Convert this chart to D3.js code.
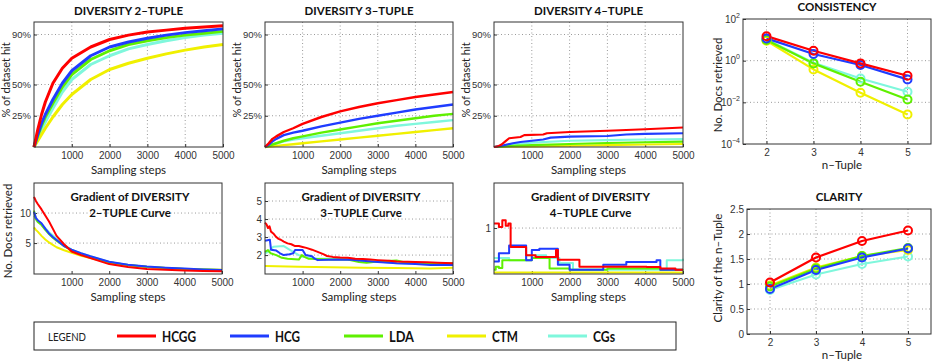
<!DOCTYPE html>
<html>
<head>
<meta charset="utf-8">
<script src="https://cdn.jsdelivr.net/npm/d3@7"></script>
<style>
  body { margin: 0; background: #fff; }
  svg { display: block; font-family: Lato, 'Liberation Sans', sans-serif; }
  .tick text { fill: #333; font-size: 10px; }
  .tick line { stroke: #333; }
  .pct .tick text { font-size: 9.5px; }
</style>
</head>
<body>
<div id="chart"></div>
<script>
const models = ['HCGG', 'HCG', 'LDA', 'CTM', 'CGs'];
const colors = ['#ff0000', '#1f3cff', '#5ff000', '#f0f000', '#7ff7dc'];

// DIVERSITY 2-TUPLE (% of dataset hit)
const div2Steps = [0, 100, 200, 300, 500, 750, 1000, 1500, 2000, 2500, 3000, 3500, 4000, 4500, 5000];
const div2Hit = [
  [0, 14, 26, 36, 51, 63, 71, 80, 86, 89.5, 92, 93.5, 95, 96, 97],
  [0, 10, 19, 26, 38, 51, 61, 73, 80, 84, 87, 89.5, 91.5, 93, 94.5],
  [0, 9, 17, 24, 35, 48, 58, 70, 77, 82, 85, 87.5, 89.5, 91, 92.5],
  [0, 5, 10, 15, 24, 34, 42, 54, 62, 67, 71, 74.5, 77.5, 80, 82],
  [0, 7, 14, 20, 31, 44, 54, 66, 73, 78.5, 82, 85, 87.5, 89.5, 91]
];

// DIVERSITY 3-TUPLE
const div3Steps = [0, 100, 200, 300, 500, 750, 1000, 1500, 2000, 2500, 3000, 3500, 4000, 4500, 5000];
const div3Hit = [
  [0, 3, 6.5, 8.5, 12, 15, 18.5, 24, 28.5, 32, 35, 37.5, 40, 42, 44],
  [0, 2, 4.5, 6.5, 9.5, 11.5, 13, 16.5, 19.5, 22.5, 25, 27.5, 30, 32, 34],
  [0, 1, 2, 3, 5, 7, 8.5, 11.5, 14, 16.5, 19, 21, 23, 25, 26.5],
  [0, 0.3, 0.6, 0.9, 1.5, 2.2, 3, 4.5, 6, 7.5, 9, 10.5, 12, 13.5, 15],
  [0, 0.8, 1.8, 2.8, 4.5, 6, 7, 9, 11, 13, 15, 17, 18.5, 20, 21.5]
];

// DIVERSITY 4-TUPLE, [step, %]
const div4Hit = [
  [[0, 0], [100, 0.5], [200, 2], [300, 4.5], [400, 7], [700, 8], [800, 9.5], [1300, 10], [1400, 11], [2000, 12], [3000, 13], [4000, 14.2], [5000, 15.6]],
  [[0, 0], [200, 1], [500, 3], [700, 4], [1000, 5], [1300, 6], [1500, 7.5], [2000, 8.3], [3000, 8.8], [3500, 10], [4000, 10.5], [5000, 11]],
  [[0, 0], [500, 1], [1000, 1.5], [2000, 2.4], [3000, 3.2], [4000, 3.8], [5000, 4.3]],
  [[0, 0], [1000, 0.5], [2000, 1], [3000, 1.5], [4000, 2], [5000, 2.4]],
  [[0, 0], [500, 2], [1000, 3.5], [2000, 5], [3000, 5.5], [4000, 6], [5000, 6.3]]
];

// Gradient of DIVERSITY 2-TUPLE curve
const grad2Steps = [0, 50, 100, 200, 300, 400, 500, 600, 800, 1000, 1250, 1500, 2000, 2500, 3000, 3500, 4000, 4500, 5000];
const grad2Docs = [
  [12.7, 12.0, 11.5, 10.6, 9.6, 8.6, 7.4, 6.2, 4.8, 3.6, 3.0, 2.5, 1.5, 1.0, 0.7, 0.55, 0.45, 0.35, 0.3],
  [10.2, 9.2, 8.8, 8.3, 7.4, 6.6, 6.0, 5.5, 4.5, 3.9, 3.3, 2.8, 1.9, 1.4, 1.1, 0.9, 0.75, 0.6, 0.5],
  [10.4, 9.0, 8.5, 8.0, 7.2, 6.5, 5.9, 5.4, 4.5, 3.8, 3.2, 2.7, 1.8, 1.35, 1.05, 0.85, 0.7, 0.6, 0.5],
  [7.6, 7.2, 6.9, 6.2, 5.6, 5.1, 4.7, 4.3, 3.8, 3.4, 2.9, 2.5, 1.7, 1.3, 1.0, 0.85, 0.7, 0.6, 0.55],
  [9.6, 9.0, 8.6, 8.2, 7.5, 6.8, 6.3, 5.7, 4.7, 3.9, 3.3, 2.8, 1.85, 1.35, 1.05, 0.85, 0.7, 0.6, 0.5]
];

// Gradient of DIVERSITY 3-TUPLE curve, [step, docs]
const grad3Docs = [
  [[0, 3.8], [40, 3.7], [80, 3.5], [120, 3.6], [160, 3.3], [220, 3.2], [300, 3.0], [360, 2.9], [420, 2.85], [500, 2.75], [600, 2.65], [700, 2.6], [800, 2.5], [900, 2.5], [1000, 2.45], [1100, 2.4], [1250, 2.3], [1400, 2.18], [1550, 2.05], [1650, 1.95], [1800, 1.9], [2000, 1.87], [2200, 1.85], [2400, 1.8], [2600, 1.78], [2800, 1.75], [3000, 1.72], [3300, 1.68], [3500, 1.65], [3800, 1.63], [4000, 1.62], [4300, 1.6], [4600, 1.58], [5000, 1.55]],
  [[0, 2.8], [130, 2.85], [160, 2.3], [300, 2.25], [400, 2.1], [500, 2.0], [650, 2.05], [750, 2.1], [800, 2.28], [1000, 2.28], [1080, 2.0], [1250, 1.94], [1320, 1.8], [1400, 1.72], [1700, 1.74], [2000, 1.75], [2300, 1.74], [2600, 1.68], [3000, 1.62], [3500, 1.54], [4000, 1.5], [4400, 1.45], [5000, 1.45]],
  [[0, 2.18], [80, 2.28], [150, 2.1], [300, 2.0], [450, 1.85], [600, 1.8], [900, 1.75], [980, 2.0], [1050, 1.9], [1150, 1.8], [1400, 1.78], [1750, 1.75], [2200, 1.75], [2500, 1.62], [2700, 1.57], [3000, 1.65], [3500, 1.7], [3700, 1.6], [4000, 1.57], [4500, 1.55], [5000, 1.54]],
  [[0, 1.39], [900, 1.35], [1750, 1.32], [2600, 1.3], [3500, 1.28], [4400, 1.25], [5000, 1.3]],
  [[0, 2.1], [100, 2.2], [220, 2.46], [500, 2.5], [650, 2.3], [750, 2.18], [900, 2.0], [1000, 1.9], [1400, 1.8], [2000, 1.8], [2600, 1.7], [3000, 1.65], [3500, 1.55], [4000, 1.52], [5000, 1.5]]
];

// Gradient of DIVERSITY 4-TUPLE curve, [step, docs]
const grad4Docs = [
  [[0, 1.1], [130, 1.02], [220, 1.17], [310, 1.05], [380, 1.1], [440, 0.59], [850, 0.41], [1100, 0.37], [1640, 0.52], [1690, 0.31], [2260, 0.16], [4040, 0.15], [4400, 0.12], [4800, 0.09], [5000, 0.09]],
  [[0, 0.27], [130, 0.45], [400, 0.62], [850, 0.3], [1000, 0.52], [1200, 0.55], [1690, 0.2], [2000, 0.09], [2890, 0.2], [3500, 0.26], [4300, 0.3], [4400, 0.09], [5000, 0.09]],
  [[0, 0.09], [45, 0.16], [130, 0.13], [220, 0.3], [1000, 0.35], [1470, 0.12], [2000, 0.09], [3000, 0.12], [4400, 0.09], [5000, 0.1]],
  [[0, 0.03], [5000, 0.03]],
  [[0, 0.35], [400, 0.3], [850, 0.41], [1380, 0.35], [1730, 0.24], [2090, 0.09], [4570, 0.3], [5000, 0.33]]
];

// CONSISTENCY and CLARITY per n-tuple
const nTuple = [2, 3, 4, 5];
const consistency = [
  [15, 3, 0.74, 0.19],
  [11.7, 2.1, 0.62, 0.126],
  [9.8, 0.74, 0.098, 0.0138],
  [9.1, 0.38, 0.029, 0.0026],
  [10.5, 0.79, 0.14, 0.032]
];
const clarity = [
  [1.03, 1.53, 1.86, 2.07],
  [0.9, 1.28, 1.53, 1.71],
  [0.95, 1.31, 1.56, 1.72],
  [0.97, 1.33, 1.56, 1.68],
  [0.88, 1.19, 1.4, 1.55]
];

const W = 935, H = 362;
const svg = d3.select('#chart').append('svg').attr('width', W).attr('height', H);

// draw the series on top of each other, HCGG last
const drawOrder = [4, 3, 2, 1, 0];

function frame(box, x, y, o) {
  const g = svg.append('g');
  // grid
  g.selectAll('.gx').data(o.gridX || []).join('line')
    .attr('x1', d => x(d)).attr('x2', d => x(d))
    .attr('y1', box.y0).attr('y2', box.y1)
    .attr('stroke', '#9a9a9a').attr('stroke-dasharray', '1,2.5');
  g.selectAll('.gy').data(o.gridY || []).join('line')
    .attr('y1', d => y(d)).attr('y2', d => y(d))
    .attr('x1', box.x0).attr('x2', box.x1)
    .attr('stroke', '#9a9a9a').attr('stroke-dasharray', '1,2.5');

  const ax = g.append('g').attr('transform', `translate(0,${box.y1})`)
    .call(d3.axisBottom(x).tickValues(o.ticksX).tickSizeInner(-3).tickSizeOuter(0).tickPadding(5)
      .tickFormat(o.fmtX || (d => d)));
  ax.select('.domain').remove();
  const ay = g.append('g').attr('transform', `translate(${box.x0},0)`)
    .call(d3.axisLeft(y).tickValues(o.ticksY).tickSizeInner(-3).tickSizeOuter(0).tickPadding(3)
      .tickFormat(o.fmtY || (d => d)));
  ay.select('.domain').remove();
  return { g, ax, ay };
}

function box(b) {
  svg.append('rect').attr('x', b.x0).attr('y', b.y0)
    .attr('width', b.x1 - b.x0).attr('height', b.y1 - b.y0)
    .attr('fill', 'none').attr('stroke', '#333').attr('stroke-width', 1);
}

function lines(series, x, y, width, curve) {
  const line = d3.line().x(d => x(d[0])).y(d => y(d[1])).curve(curve || d3.curveLinear);
  drawOrder.forEach(i => {
    svg.append('path').datum(series[i])
      .attr('d', line).attr('fill', 'none')
      .attr('stroke', colors[i]).attr('stroke-width', width)
      .attr('stroke-linejoin', 'round');
  });
}

function label(text, x, y, opts) {
  const t = svg.append('text').attr('x', x).attr('y', y)
    .attr('text-anchor', 'middle').attr('fill', opts.fill || '#222')
    .attr('font-size', opts.size || 12)
    .attr('font-weight', opts.bold ? 'bold' : 'normal')
    .text(text);
  if (opts.rotate) t.attr('transform', `rotate(-90,${x},${y})`).attr('dominant-baseline', 'central');
  return t;
}

// --- top row: DIVERSITY n-TUPLE ---
const divBoxes = [
  { x0: 34, x1: 223, y0: 22, y1: 147 },
  { x0: 265, x1: 453, y0: 22, y1: 147 },
  { x0: 494, x1: 683, y0: 22, y1: 147 }
];
const divSeries = [
  div2Hit.map(s => s.map((v, j) => [div2Steps[j], v])),
  div3Hit.map(s => s.map((v, j) => [div3Steps[j], v])),
  div4Hit
];
const divTitles = ['DIVERSITY 2\u2013TUPLE', 'DIVERSITY 3\u2013TUPLE', 'DIVERSITY 4\u2013TUPLE'];
const divWidth = [3, 2.4, 2.2];

divBoxes.forEach((b, k) => {
  const x = d3.scaleLinear().domain([0, 5000]).range([b.x0, b.x1]);
  const y = d3.scaleLinear().domain([0, 100]).range([b.y1, b.y0]);
  const f = frame(b, x, y, {
    ticksX: [1000, 2000, 3000, 4000, 5000], ticksY: [25, 50, 90],
    gridX: [1000, 2000, 3000, 4000], gridY: [25, 50, 90],
    fmtY: d => d + '%'
  });
  f.ay.classed('pct', true);
  lines(divSeries[k], x, y, divWidth[k]);
  box(b);
  const cx = (b.x0 + b.x1) / 2;
  label(divTitles[k], cx, 15, { bold: true, size: 11.5, fill: '#111' });
  label('Sampling steps', cx, 174, { size: 11.5 });
  label('% of dataset hit', b.x0 - 28.5, 80, { rotate: true, size: 11 });
});

// --- bottom row: gradients ---
const gradBoxes = [
  { x0: 34, x1: 222, y0: 183, y1: 274 },
  { x0: 265, x1: 453, y0: 183, y1: 274 },
  { x0: 494, x1: 683, y0: 183, y1: 274 }
];
const gradSeries = [
  grad2Docs.map(s => s.map((v, j) => [grad2Steps[j], v])),
  grad3Docs,
  grad4Docs
];
const gradDomains = [[-0.15, 15], [0.95, 6], [0, 1.98]];
const gradTicks = [[5, 10], [2, 3, 4, 5], [1]];
const gradNames = ['2\u2013TUPLE Curve', '3\u2013TUPLE Curve', '4\u2013TUPLE Curve'];
const gradCurves = [d3.curveLinear, d3.curveLinear, d3.curveStepAfter];

gradBoxes.forEach((b, k) => {
  const x = d3.scaleLinear().domain([0, 5000]).range([b.x0, b.x1]);
  const y = d3.scaleLinear().domain(gradDomains[k]).range([b.y1, b.y0]);
  frame(b, x, y, {
    ticksX: [1000, 2000, 3000, 4000, 5000], ticksY: gradTicks[k],
    gridY: gradTicks[k]
  });
  const cx = (b.x0 + b.x1) / 2 + 2;
  label('Gradient of DIVERSITY', cx, 201, { bold: true, size: 11.5, fill: '#111' });
  label(gradNames[k], cx, 217, { bold: true, size: 11.5, fill: '#111' });
  lines(gradSeries[k], x, y, 2, gradCurves[k]);
  box(b);
  label('Sampling steps', cx - 2, 301, { size: 11.5 });
});
label('No. Docs retrieved', 7, 231, { rotate: true, size: 11.5 });

// --- CONSISTENCY ---
const consBox = { x0: 743, x1: 931, y0: 19, y1: 144 };
{
  const b = consBox;
  const x = d3.scaleLinear().domain([1.5, 5.5]).range([b.x0, b.x1]);
  const y = d3.scaleLog().domain([1e-4, 1e2]).range([b.y1, b.y0]);
  const f = frame(b, x, y, {
    ticksX: nTuple, ticksY: [1e-4, 1e-2, 1, 1e2],
    gridX: nTuple, gridY: [1e-2, 1], fmtY: () => ''
  });
  f.ay.selectAll('.tick text').each(function (d) {
    const t = d3.select(this);
    t.append('tspan').text('10');
    t.append('tspan').attr('dy', -5).attr('font-size', 7)
      .text(String(Math.round(Math.log10(d))).replace('-', '\u2212'));
  });
  const series = consistency.map(s => s.map((v, j) => [nTuple[j], v]));
  lines(series, x, y, 2.2);
  drawOrder.forEach(i => {
    svg.append('g').selectAll('circle').data(series[i]).join('circle')
      .attr('cx', d => x(d[0])).attr('cy', d => y(d[1])).attr('r', 4)
      .attr('fill', 'none').attr('stroke', colors[i]).attr('stroke-width', 2);
  });
  box(b);
  const cx = (b.x0 + b.x1) / 2;
  label('CONSISTENCY', cx, 11, { bold: true, size: 11.5, fill: '#111' });
  label('n\u2013Tuple', cx + 5, 169, { size: 11.5 });
  label('No. Docs retrieved', 717, 85, { rotate: true, size: 11.5 });
}

// --- CLARITY ---
const clarBox = { x0: 747, x1: 931, y0: 209, y1: 334 };
{
  const b = clarBox;
  const x = d3.scaleLinear().domain([1.5, 5.5]).range([b.x0, b.x1]);
  const y = d3.scaleLinear().domain([0, 2.5]).range([b.y1, b.y0]);
  frame(b, x, y, {
    ticksX: nTuple, ticksY: [0, 0.5, 1, 1.5, 2, 2.5],
    gridX: nTuple, gridY: [0.5, 1, 1.5, 2]
  });
  const series = clarity.map(s => s.map((v, j) => [nTuple[j], v]));
  lines(series, x, y, 2.2);
  drawOrder.forEach(i => {
    svg.append('g').selectAll('circle').data(series[i]).join('circle')
      .attr('cx', d => x(d[0])).attr('cy', d => y(d[1])).attr('r', 4)
      .attr('fill', 'none').attr('stroke', colors[i]).attr('stroke-width', 2);
  });
  box(b);
  const cx = (b.x0 + b.x1) / 2;
  label('CLARITY', cx, 201, { bold: true, size: 11.5, fill: '#111' });
  label('n\u2013Tuple', cx + 3, 359, { size: 11.5 });
  label('Clarity of the n\u2013Tuple', 717, 268, { rotate: true, size: 11.5 });
}

// --- legend ---
const legendX = [117, 230, 344, 447, 548];
const legendTextW = [34, 25, 25, 26, 22];
const lg = svg.append('g');
lg.append('rect').attr('x', 34).attr('y', 322).attr('width', 642).attr('height', 28)
  .attr('fill', '#fff').attr('stroke', '#222').attr('stroke-width', 1);
lg.append('text').attr('x', 48).attr('y', 340.5).attr('font-size', 11)
  .attr('textLength', 38).attr('lengthAdjust', 'spacingAndGlyphs').attr('fill', '#222').text('LEGEND');
models.forEach((m, i) => {
  lg.append('line').attr('x1', legendX[i]).attr('x2', legendX[i] + 39)
    .attr('y1', 336).attr('y2', 336).attr('stroke', colors[i]).attr('stroke-width', 3);
  lg.append('text').attr('x', legendX[i] + 45).attr('y', 341.5)
    .attr('font-size', 14.5).attr('font-weight', 'bold').attr('fill', '#111')
    .attr('textLength', legendTextW[i]).attr('lengthAdjust', 'spacingAndGlyphs').text(m);
});
</script>
</body>
</html>
